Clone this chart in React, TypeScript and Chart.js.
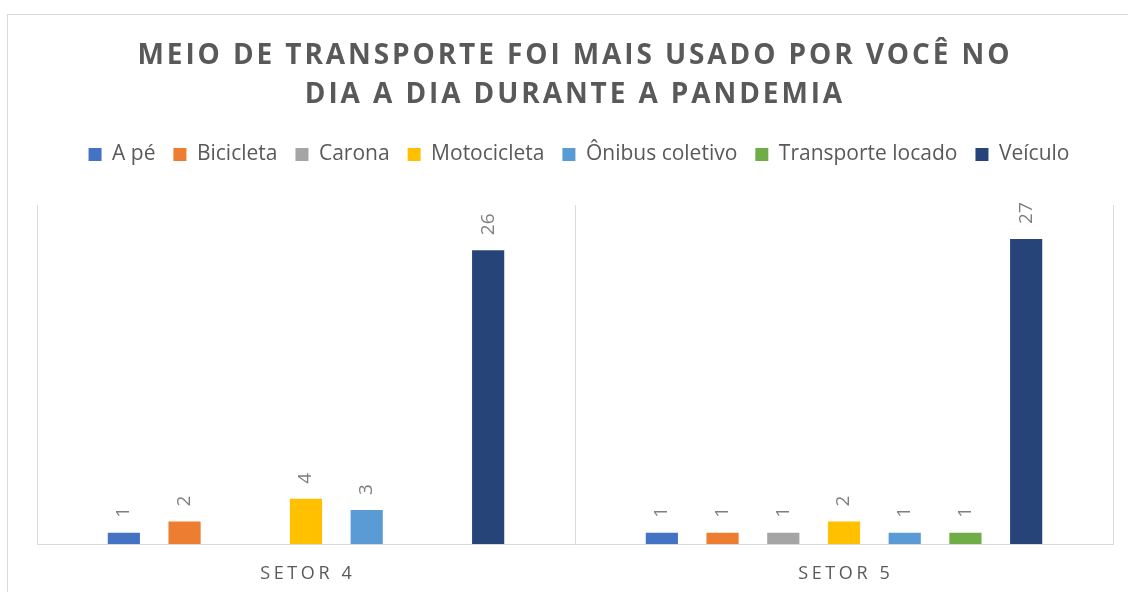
import React, { useEffect, useRef } from "react";
import { Chart, registerables } from "chart.js";

Chart.register(...registerables);

const categories = ["SETOR 4", "SETOR 5"];
const seriesNames = ["A pé", "Bicicleta", "Carona", "Motocicleta", "Ônibus coletivo", "Transporte locado", "Veículo"];
const aPe = [1, 1];
const bicicleta = [2, 1];
const carona = [null, 1];
const motocicleta = [4, 2];
const onibus = [3, 1];
const transporteLocado = [null, 1];
const veiculo = [26, 27];
const seriesColors = ["#4472C4", "#ED7D31", "#A5A5A5", "#FFC000", "#5B9BD5", "#70AD47", "#264478"];
const titleLines = ["MEIO DE TRANSPORTE FOI MAIS USADO POR VOCÊ NO", "DIA A DIA DURANTE A PANDEMIA"];

const seriesValues = [aPe, bicicleta, carona, motocicleta, onibus, transporteLocado, veiculo];

function spacedWidth(ctx: CanvasRenderingContext2D, text: string, spacing: number) {
  (ctx as any).letterSpacing = "0px";
  const w = ctx.measureText(text).width + spacing * (Array.from(text).length - 1);
  (ctx as any).letterSpacing = spacing + "px";
  return w;
}

const decorPlugin = {
  id: "decor",
  beforeInit(chart: any) {
    const lg = chart.legend;
    if (lg && !lg._patched) {
      const origFit = lg.fit.bind(lg);
      lg.fit = function () {
        origFit();
        this.height += 30;
      };
      const origDraw = lg.draw.bind(lg);
      lg.draw = function () {
        const c = chart.ctx;
        c.save();
        c.translate(4, 0);
        origDraw();
        c.restore();
      };
      lg._patched = true;
    }
  },
  beforeDraw(chart: any) {
    const ctx = chart.ctx as CanvasRenderingContext2D;
    ctx.save();
    ctx.fillStyle = "#ffffff";
    ctx.fillRect(0, 0, chart.width, chart.height);
    ctx.strokeStyle = "#d9d9d9";
    ctx.lineWidth = 1;
    ctx.strokeRect(7.5, 14.5, chart.width + 10, chart.height + 10);
    ctx.restore();
  },
  afterDatasetsDraw(chart: any) {
    const ctx = chart.ctx as CanvasRenderingContext2D;
    ctx.save();
    ctx.fillStyle = "#7f7f7f";
    ctx.font = '19px "Open Sans"';
    ctx.textAlign = "left";
    ctx.textBaseline = "middle";
    chart.data.datasets.forEach((ds: any, i: number) => {
      const meta = chart.getDatasetMeta(i);
      meta.data.forEach((bar: any, j: number) => {
        const v = ds.data[j];
        if (v === null || v === undefined) return;
        ctx.save();
        ctx.translate(bar.x, bar.y - 15);
        ctx.rotate(-Math.PI / 2);
        ctx.fillText(String(v), 0, 0);
        ctx.restore();
      });
    });
    ctx.restore();
  },
  afterDraw(chart: any) {
    const ctx = chart.ctx as CanvasRenderingContext2D;
    ctx.save();
    ctx.fillStyle = "#595959";
    ctx.textAlign = "left";
    ctx.textBaseline = "alphabetic";
    ctx.font = 'bold 28px "Open Sans"';
    const baselines = [64, 103];
    titleLines.forEach((line, i) => {
      const w = spacedWidth(ctx, line, 2.9);
      ctx.fillText(line, 573.5 - w / 2, baselines[i]);
    });
    ctx.font = '18px "Open Sans"';
    const xs = chart.scales.x;
    categories.forEach((c, i) => {
      const w = spacedWidth(ctx, c, 3.6);
      ctx.fillText(c, xs.getPixelForValue(i) - w / 2, 579);
    });
    (ctx as any).letterSpacing = "0px";
    ctx.restore();
  },
};

export default function App() {
  const canvasRef = useRef<HTMLCanvasElement | null>(null);

  useEffect(() => {
    if (!canvasRef.current) return;
    const chart = new Chart(canvasRef.current, {
      type: "bar",
      data: {
        labels: categories,
        datasets: seriesNames.map((name, i) => ({
          label: name,
          data: seriesValues[i],
          backgroundColor: seriesColors[i],
          borderWidth: 0,
          categoryPercentage: 0.79,
          barPercentage: 0.53,
        })),
      },
      options: {
        responsive: true,
        maintainAspectRatio: false,
        animation: false,
        layout: { padding: { top: 126, left: 37, right: 15, bottom: 48 } },
        plugins: {
          title: { display: false },
          tooltip: { enabled: false },
          legend: {
            display: true,
            position: "top",
            labels: {
              font: { family: "Open Sans", size: 21 },
              color: "#595959",
              boxWidth: 13,
              boxHeight: 13,
              padding: 18,
            },
          },
        },
        scales: {
          x: {
            grid: { color: "#d9d9d9", drawTicks: false, offset: true },
            border: { color: "#d9d9d9" },
            ticks: { display: false },
          },
          y: { display: false, min: 0, max: 30 },
        },
      },
      plugins: [decorPlugin as any],
    });
    return () => chart.destroy();
  }, []);

  return (
    <div style={{ position: "absolute", left: 0, top: 0, width: 1128, height: 592 }}>
      <canvas ref={canvasRef} />
    </div>
  );
}
